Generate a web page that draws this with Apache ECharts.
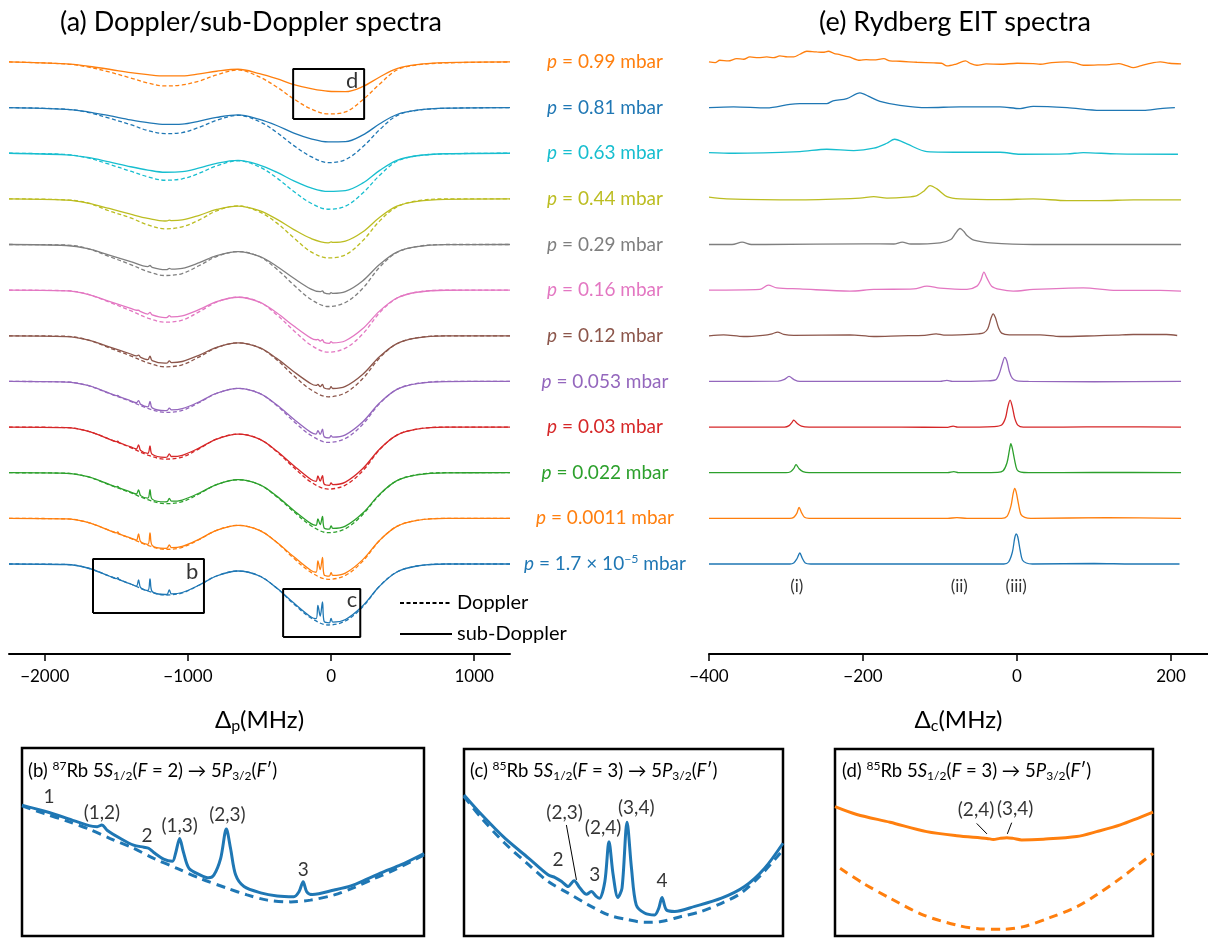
<!DOCTYPE html>
<html>
<head>
<meta charset="utf-8">
<title>Doppler / sub-Doppler and Rydberg EIT spectra</title>
<script src="https://cdn.jsdelivr.net/npm/echarts@6.0.0/dist/echarts.min.js"></script>
<style>
  html, body { margin: 0; padding: 0; background: #fff; }
  #main { width: 1208px; height: 939px; }
</style>
</head>
<body>
<div id="main"></div>
<script>
(function () {
  var chart = echarts.init(document.getElementById('main'));
  var FONT = 'Lato, "Noto Sans", sans-serif';

  // traces are stacked bottom (index 0) to top (index 11)
  var pressureLabels = ['1.7 × 10^−5', '0.0011', '0.022', '0.03', '0.053', '0.12', '0.16', '0.29', '0.44', '0.63', '0.81', '0.99'];
  var colors = ['#1f77b4', '#ff7f0e', '#2ca02c', '#d62728', '#9467bd', '#8c564b', '#e377c2', '#7f7f7f', '#bcbd22', '#17becf', '#1f77b4', '#ff7f0e'];
  var SPACING = 45.64; // vertical offset between traces (a.u.)

  // probe detuning grid (MHz) of the Doppler traces
  var dopX = [-2250, -1850, -1700, -1550, -1400, -1280, -1160, -1040, -920, -800, -650, -500, -380, -260, -140, -20, 100, 220, 340, 460, 600, 800, 1250];

  // Doppler (dashed) traces, transmission relative to baseline
  var doppler = [
    [0, -0.5, -4, -12, -20, -27, -31, -29, -21, -12, -7, -12, -24, -40, -54, -61, -57, -43, -22, -8, -2, 0, 0],
    [0, -0.5, -4, -12, -20, -27, -31, -29, -21, -12, -7, -12, -24, -40, -54, -61, -57, -43, -22, -8, -2, 0, 0],
    [0, -0.5, -4, -12, -20, -27, -31, -29, -21, -12, -7, -12, -24, -39, -53, -60, -56, -42, -22, -8, -2, 0, 0],
    [0, -0.5, -4, -12, -20.5, -28, -32, -30, -21.5, -12, -7, -12, -24.5, -40.5, -55, -62, -58, -44, -22.5, -8, -2, 0, 0],
    [0, -0.5, -4, -12, -20, -27, -31, -29, -21, -12, -7, -12, -24, -40, -54, -61, -57, -43, -22, -8, -2, 0, 0],
    [0, -0.5, -4, -12, -20, -27, -31, -29, -21, -12, -7, -12, -24, -40, -54, -61, -57, -43, -22, -8, -2, 0, 0],
    [0, -0.5, -4, -12, -20.5, -28, -32, -30, -21.5, -12, -7, -12, -24.5, -40.5, -55, -62, -58, -44, -22.5, -8, -2, 0, 0],
    [0, -0.5, -4, -12, -20, -27, -31, -29, -21, -12, -7, -12, -24.5, -40.5, -55, -62, -58, -44, -22.5, -8, -2, 0, 0],
    [0, -1, -4, -12, -19, -26, -30, -28, -21, -12, -7, -13, -24, -39, -53, -59, -56, -42, -22, -8, -2, 0, 0],
    [0, -1.3, -4.6, -11, -18, -23.6, -27, -25.6, -20, -12.6, -7.6, -13.7, -24.6, -38.3, -50, -56, -53, -40, -22, -8, -2.6, -0.6, 0],
    [0, -1.6, -4.7, -10.6, -17, -23, -26, -25, -19.6, -12.7, -7.7, -14, -24.7, -38, -49, -55, -52, -39.5, -22, -8, -2.7, -0.7, 0],
    [0, -2, -5, -10, -16, -21, -24, -23, -19, -13, -8, -15, -25, -37, -47, -52, -50, -38, -22, -8, -3, -1, 0]
  ];

  // sub-Doppler (solid) traces: [MHz, value] pairs, or values on dopX
  var subDoppler = [
    [[-2250,0],[-1850,-0.5],[-1700,-4],[-1550,-12],[-1500,-14.7],[-1490,-13.7],[-1480,-15.7],[-1400,-20],[-1360,-22.2],[-1345,-16],[-1330,-23.8],[-1280,-26.5],[-1265,-15],[-1250,-27.5],[-1160,-30.5],[-1145,-30.3],[-1130,-26],[-1115,-29.8],[-1040,-28.5],[-920,-21],[-800,-12],[-650,-7],[-500,-12],[-380,-24],[-260,-39],[-140,-53],[-105,-54.7],[-92,-41.4],[-76,-52],[-60,-38],[-48,-57.6],[-12,-58.8],[0,-54.4],[12,-58.1],[100,-55.5],[220,-42],[340,-22],[460,-8],[600,-2],[800,0],[1250,0]],
    [[-2250,0],[-1850,-0.5],[-1700,-4],[-1550,-12],[-1500,-14.6],[-1490,-13.6],[-1480,-15.6],[-1400,-19.7],[-1360,-21.8],[-1345,-15.6],[-1330,-23.4],[-1280,-26],[-1265,-14.5],[-1250,-27],[-1160,-30],[-1145,-29.8],[-1130,-26.5],[-1115,-29.3],[-1040,-28],[-920,-20.7],[-800,-12],[-650,-7],[-500,-12],[-380,-23.8],[-260,-38.5],[-140,-52.2],[-105,-53.9],[-92,-42.5],[-76,-51.3],[-60,-39.1],[-48,-56.7],[-12,-57.8],[0,-54.4],[12,-57.1],[100,-54.7],[220,-41.5],[340,-21.8],[460,-8],[600,-2],[800,0],[1250,0]],
    [[-2250,0],[-1850,-0.6],[-1700,-4],[-1550,-11.6],[-1500,-14.2],[-1490,-13.7],[-1480,-15.2],[-1400,-19.3],[-1360,-21.3],[-1345,-17.1],[-1330,-22.9],[-1280,-25.4],[-1265,-16.9],[-1250,-26.4],[-1160,-29.2],[-1145,-29],[-1130,-25.7],[-1115,-28.5],[-1040,-27.3],[-920,-20.3],[-800,-11.8],[-650,-7],[-500,-12],[-380,-23.4],[-260,-37.7],[-140,-50.9],[-105,-52.6],[-92,-46.2],[-76,-51.9],[-60,-43.7],[-48,-55.3],[-12,-56.4],[0,-53.1],[12,-55.7],[100,-53.4],[220,-40.6],[340,-21.4],[460,-7.9],[600,-2.1],[800,-0.1],[1250,0]],
    [[-2250,0],[-1850,-0.5],[-1700,-4],[-1550,-12],[-1500,-14.6],[-1490,-14.1],[-1480,-15.6],[-1400,-19.8],[-1360,-21.9],[-1345,-17.7],[-1330,-23.5],[-1280,-26.2],[-1265,-18.7],[-1250,-27.2],[-1160,-30.2],[-1145,-29.9],[-1130,-26.7],[-1115,-29.4],[-1040,-28.2],[-920,-20.8],[-800,-12],[-650,-7],[-500,-12],[-380,-23.9],[-260,-38.7],[-140,-52.5],[-105,-54.2],[-92,-48.9],[-76,-54.1],[-60,-48.5],[-48,-57],[-12,-58.2],[0,-55.8],[12,-57.5],[100,-55],[220,-41.7],[340,-21.9],[460,-8],[600,-2],[800,0],[1250,0]],
    [[-2250,0],[-1850,-0.6],[-1700,-4],[-1550,-11.6],[-1500,-14.2],[-1490,-14],[-1480,-15.2],[-1400,-19.3],[-1360,-21.3],[-1345,-19.1],[-1330,-22.9],[-1280,-25.4],[-1265,-19.9],[-1250,-26.4],[-1160,-29.2],[-1145,-29],[-1130,-26.7],[-1115,-28.5],[-1040,-27.3],[-920,-20.3],[-800,-11.8],[-650,-7],[-500,-12],[-380,-23.4],[-260,-37.7],[-140,-50.9],[-105,-52.6],[-92,-49.2],[-76,-52.9],[-60,-47.7],[-48,-55.3],[-12,-56.4],[0,-54.1],[12,-55.7],[100,-53.4],[220,-40.6],[340,-21.4],[460,-7.9],[600,-2.1],[800,-0.1],[1250,0]],
    [[-2250,0],[-1850,-0.8],[-1700,-4.1],[-1550,-11.1],[-1400,-18.2],[-1360,-20.1],[-1345,-19.3],[-1330,-21.5],[-1280,-23.9],[-1265,-20.3],[-1250,-24.8],[-1160,-27.4],[-1145,-27.2],[-1130,-25],[-1115,-26.8],[-1040,-25.7],[-920,-19.3],[-800,-11.5],[-650,-7.1],[-500,-11.9],[-380,-22.6],[-260,-35.9],[-140,-48],[-105,-49.6],[-92,-48.7],[-76,-50.9],[-60,-48.6],[-48,-52.2],[-12,-53.2],[0,-50.9],[12,-52.7],[100,-50.6],[220,-38.7],[340,-20.7],[460,-7.8],[600,-2.1],[800,-0.1],[1250,0]],
    [[-2250,0],[-1850,-0.8],[-1700,-4.1],[-1550,-11.1],[-1400,-18.2],[-1360,-20.1],[-1345,-20.1],[-1330,-21.5],[-1280,-23.9],[-1265,-22.3],[-1250,-24.8],[-1160,-27.4],[-1145,-27.2],[-1130,-25.5],[-1115,-26.8],[-1040,-25.7],[-920,-19.3],[-800,-11.5],[-650,-7.1],[-500,-11.9],[-380,-22.6],[-260,-35.9],[-140,-48],[-105,-49.6],[-92,-49.2],[-76,-50.9],[-60,-49.6],[-48,-52.2],[-12,-53.2],[0,-51.4],[12,-52.7],[100,-50.6],[220,-38.7],[340,-20.7],[460,-7.8],[600,-2.1],[800,-0.1],[1250,0]],
    [[-2250,0],[-1850,-1],[-1700,-4.1],[-1550,-10.5],[-1400,-17],[-1280,-22.1],[-1265,-21],[-1250,-22.9],[-1160,-25.2],[-1145,-25],[-1130,-23.9],[-1115,-24.7],[-1040,-23.9],[-920,-18.1],[-800,-11.1],[-650,-7.1],[-500,-11.9],[-380,-21.7],[-260,-33.8],[-140,-44.6],[-76,-47.2],[-60,-46.4],[-48,-48.4],[-12,-49.3],[0,-48.1],[12,-48.9],[100,-47.2],[220,-36.5],[340,-19.8],[460,-7.6],[600,-2.2],[800,-0.2],[1250,0]],
    [[-2250,0],[-1850,-1.3],[-1700,-4.2],[-1550,-9.6],[-1400,-15.3],[-1280,-19.5],[-1160,-22.1],[-1145,-22],[-1130,-21.2],[-1115,-21.7],[-1040,-21.1],[-920,-16.4],[-800,-10.6],[-650,-7.2],[-500,-11.8],[-380,-20.3],[-260,-30.7],[-140,-39.6],[-20,-43.9],[-12,-43.8],[0,-42.9],[12,-43.5],[100,-42.3],[220,-33.2],[340,-18.4],[460,-7.3],[600,-2.4],[800,-0.4],[1250,0]],
    [0, -1.6, -4.2, -8.7, -13.5, -16.8, -19, -18.4, -14.7, -10.1, -7.2, -11.8, -18.9, -27.6, -34.6, -38.2, -37.4, -29.9, -17.1, -7.1, -2.5, -0.5, 0],
    [0, -1.7, -4.2, -8.1, -12.3, -15.1, -16.8, -16.5, -13.5, -9.8, -7.2, -11.8, -17.9, -25.5, -31.2, -34.3, -34.1, -27.6, -16.2, -6.9, -2.6, -0.6, 0],
    [0, -2, -4.3, -7.3, -10.7, -12.7, -14, -14, -12, -9.3, -7.3, -11.7, -16.7, -22.7, -26.7, -29.3, -29.7, -24.7, -15, -6.7, -2.7, -0.7, 0]
  ];

  // Rydberg EIT traces: [coupling detuning MHz, signal]
  var eit = [
    [[-400,0],[-295,0],[-290,1],[-286,5],[-282,11],[-279,6],[-275,1],[-268,0],[-100,0],[-17,0],[-11,2],[-6,12],[-3,26],[-1,30],[1,27],[4,14],[7,4],[12,1],[20,0],[100,0.5],[150,0],[211,0]],
    [[-400,0],[-295,0],[-290,1],[-286,5],[-283,11],[-280,6],[-276,1],[-270,0],[-90,0],[-78,0.7],[-65,0],[-20,0],[-13,2],[-8,12],[-5,25],[-3,30],[-1,26],[2,14],[5,4],[10,1],[18,0],[117,0.7],[213,0]],
    [[-400,0],[-300,0],[-294,1],[-290,4],[-287,8],[-283,4],[-278,1],[-270,0],[-90,0],[-82,1],[-76,0],[-25,0.3],[-18,2],[-13,10],[-10,22],[-8,29],[-6,24],[-3,12],[0,3],[5,0.5],[15,0],[100,0.3],[213,0]],
    [[-400,0],[-302,0],[-296,1.5],[-292,5],[-290,7],[-286,4],[-280,1],[-270,0],[-150,0],[-90,-0.3],[-83,1],[-77,0],[-30,0.5],[-20,2],[-15,9],[-12,20],[-9,27],[-6,20],[-3,9],[1,2],[8,0],[60,0],[120,0.3],[213,0]],
    [[-400,0],[-310,0.3],[-302,2],[-296,5],[-290,2],[-282,0],[-150,0],[-100,0],[-91,1],[-84,0],[-40,0.5],[-28,1.5],[-23,8],[-19,18],[-16,24],[-13,20],[-10,10],[-6,3],[0,0.5],[15,0],[100,-0.3],[213,0]],
    [[-400,0],[-381,1],[-355,-0.7],[-330,0.5],[-318,2],[-311,3.7],[-303,1.5],[-290,0.5],[-217,1],[-186,-0.7],[-152,0],[-120,0.5],[-105,2],[-95,0.7],[-74,1],[-50,2],[-43,3],[-38,7],[-34,17],[-31,22],[-28,18],[-24,8],[-20,2.7],[-10,1],[0,1],[30,1],[56,-0.7],[100,0],[129,0.7],[151,1.3],[194,1.3],[208,0.3]],
    [[-400,0],[-334,0.7],[-323,5],[-312,2.3],[-282,1.3],[-217,-1],[-186,0.7],[-134,1.3],[-117,4],[-100,2],[-65,0.7],[-52,4],[-47,10],[-43,18],[-39,12],[-33,4],[-22,0.7],[-5,-1],[21,0.7],[86,2.3],[129,-0.3],[186,-0.3],[213,-1]],
    [[-400,0],[-370,0],[-357,2.3],[-345,0],[-327,0],[-197,0.7],[-160,0.5],[-149,2.3],[-138,0.5],[-100,1.7],[-86,5],[-80,11],[-74,16],[-69,13],[-65,9],[-56,4.3],[-35,1.7],[21,0],[108,0],[213,0]],
    [[-400,1.7],[-377,0],[-282,-1],[-204,0.7],[-186,2.3],[-169,0.7],[-143,1.7],[-130,3.3],[-121,7.7],[-113,13.3],[-104,10],[-91,2.3],[-74,0],[-22,-0.7],[21,0],[65,-1.7],[108,-1.7],[151,-1],[213,-1]],
    [[-400,0.7],[-368,0],[-282,1.7],[-247,4],[-212,2.7],[-186,5],[-169,10],[-159,14],[-143,9.3],[-117,1.7],[-65,1],[-22,1],[4,-1],[65,-0.7],[86,0.7],[129,-0.7],[209,-1]],
    [[-400,0],[-368,0.7],[-325,-0.3],[-295,3.3],[-282,4],[-247,4],[-239,6.7],[-221,9],[-204,14.7],[-191,10.7],[-178,6.3],[-152,2.3],[-117,0],[-74,0.7],[-22,0.7],[4,-1],[21,1.3],[65,0],[108,-2.7],[164,-2.7],[186,-1],[205,0]],
    [[-400,0],[-392,-0.7],[-386,1.7],[-375,1],[-364,3.3],[-355,2.7],[-347,5],[-336,4.3],[-325,5],[-316,4.3],[-308,6],[-298,5],[-290,5],[-282,7.7],[-273,10.7],[-266,10.3],[-260,10],[-252,9.7],[-245,10.7],[-238,8.7],[-230,7.3],[-218,5],[-204,1.7],[-196,2.3],[-186,2],[-173,3.3],[-165,1],[-152,0.7],[-130,-0.3],[-108,-1],[-98,-1.3],[-91,-4],[-80,-2.3],[-67,1],[-60,-1.7],[-52,-3.3],[-40,-2],[-22,-2.3],[0,-1.3],[21,-1.7],[30,-2.3],[45,-0.7],[65,0],[75,-1],[86,-3.3],[105,-3],[120,-2.7],[132,-1.7],[142,-3.7],[151,-5.7],[160,-4],[170,-2],[186,0],[198,-1.3],[213,-2]]
  ];
  var eitMarks = [[-286, '(i)'], [-75, '(ii)'], [-1, '(iii)']];

  // insets: zoomed views (x in MHz, y in a.u.)
  var bRange = { x: [-1663, -888], y: [-49, 5], trace: 0 };
  var bSub = [[-1663,-11.4],[-1621,-13.1],[-1576,-15.2],[-1534,-17.3],[-1518,-17.6],[-1509,-17.1],[-1499,-18.6],[-1473,-21.0],[-1448,-22.9],[-1428,-23.5],[-1419,-23.8],[-1409,-25.0],[-1390,-26.9],[-1373,-27.5],[-1367,-25.3],[-1359,-21.0],[-1352,-24.8],[-1341,-29.6],[-1319,-31.5],[-1303,-32.3],[-1293,-31.5],[-1280,-26.7],[-1269,-18.3],[-1261,-23.8],[-1251,-31.5],[-1235,-34.8],[-1203,-36.6],[-1171,-37.5],[-1139,-37.7],[-1129,-36.3],[-1121,-33.4],[-1114,-36.3],[-1103,-37.1],[-1061,-35.8],[-1029,-34.6],[-997,-32.6],[-965,-30.5],[-933,-28.6],[-888,-25.3]];
  var bDop = [[-1663,-11.6],[-1621,-13.8],[-1576,-16.0],[-1534,-18.3],[-1493,-21.0],[-1448,-23.8],[-1409,-26.7],[-1364,-29.6],[-1319,-32.5],[-1267,-35.3],[-1229,-37.2],[-1190,-38.7],[-1145,-39.2],[-1107,-38.7],[-1061,-37.2],[-1023,-35.1],[-984,-32.5],[-946,-30.1],[-888,-25.7]];
  var bLabels = [[-1611, -9, '1'], [-1509, -13.5, '(1,2)'], [-1422, -20.2, '2'], [-1359, -17.3, '(1,3)'], [-1267, -14.3, '(2,3)'], [-1121, -30.1, '3']];

  var cRange = { x: [-335, 204], y: [-73, -25], trace: 0 };
  var cSub = [[-335,-36.8],[-305,-41.9],[-266,-47.9],[-226,-53.0],[-193,-57.3],[-181,-58.0],[-170,-59.0],[-159,-60.3],[-149,-58.8],[-139,-60.7],[-128,-62.3],[-120,-61.6],[-111,-62.9],[-106,-63.3],[-97,-59.0],[-90,-48.8],[-83,-57.3],[-75,-63.1],[-68,-60.7],[-59.5,-43.8],[-52,-55.6],[-44,-65.0],[-30,-67.1],[-13,-67.6],[-6,-65.9],[-0.4,-63.1],[7,-66.3],[21,-66.7],[55,-65.4],[100,-63.3],[139,-60.3],[173,-55.6],[204,-49.2]];
  var cDop = [[-335,-37.2],[-305,-42.8],[-266,-49.2],[-226,-54.7],[-193,-59.0],[-159,-62.0],[-125,-65.0],[-91,-67.6],[-58,-68.8],[-30,-69.5],[-2,-69.3],[32,-68.0],[66,-66.7],[100,-64.6],[133,-62.0],[167,-57.3],[204,-50.9]];
  var cLabels = [[-176, -53.5, '2'], [-165, -41.5, '(2,3)'], [-114, -57.3, '3'], [-100, -45.3, '(2,4)'], [-44, -40.2, '(3,4)'], [-0.4, -58.8, '4']];
  var cLeaders = [[[-145, -58.6], [-162, -44.5]]];

  var dRange = { x: [-265, 231], y: [-57, -7], trace: 11 };
  var dSub = [[-265,-22.4],[-231,-24.5],[-179,-26.6],[-122,-29.1],[-75,-30.2],[-28,-30.9],[-18,-31.2],[-8,-30.9],[3,-30.7],[13,-30.9],[26,-31.3],[60,-31.1],[112,-30.4],[143,-29.1],[180,-27.3],[231,-23.9]];
  var dDop = [[-257,-38.9],[-221,-42.9],[-179,-46.9],[-127,-51.4],[-75,-54.1],[-39,-55.1],[-2,-55.2],[29,-54.5],[70,-52.1],[112,-49.2],[143,-46.0],[180,-41.6],[231,-34.9]];
  var dLabels = [[-45, -23.3, '(2,4)'], [16, -23.0, '(3,4)']];
  var dLeaders = [[[-44, -26.9], [-28, -29.7]], [[10.6, -26.7], [3.8, -29.7]]];

  // box labels in panel (a), relative to the zoomed trace
  var boxLabels = [[-971, -8, 'b', 0], [147, -36, 'c', 0], [147, -19, 'd', 11]];

  function pairs(arr) {
    if (typeof arr[0] === 'number') {
      return arr.map(function (v, i) { return [dopX[i], v]; });
    }
    return arr;
  }
  function shift(arr, off) {
    return arr.map(function (p) { return [p[0], p[1] + off]; });
  }
  function boxPath(r) {
    var off = r.trace * SPACING;
    return [[r.x[0], r.y[0] + off], [r.x[1], r.y[0] + off], [r.x[1], r.y[1] + off], [r.x[0], r.y[1] + off], [r.x[0], r.y[0] + off]];
  }
  function labelSeries(axis, list, size) {
    return {
      type: 'scatter', xAxisIndex: axis, yAxisIndex: axis, symbolSize: 0, silent: true, z: 5,
      data: list.map(function (l) { return { value: [l[0], l[1]], label: { formatter: l[2] } }; }),
      label: { show: true, position: 'inside', fontSize: size, fontFamily: FONT, color: '#000' }
    };
  }
  function leaderSeries(axis, segs) {
    return segs.map(function (s) {
      return { type: 'line', xAxisIndex: axis, yAxisIndex: axis, symbol: 'none', silent: true, data: s,
        lineStyle: { color: '#000', width: 1 } };
    });
  }

  var DASH = [4, 2.5];
  var series = [
    { name: 'Doppler', type: 'line', data: [], symbol: 'none', color: '#000', lineStyle: { color: '#000', width: 1.3, type: DASH } },
    { name: 'sub-Doppler', type: 'line', data: [], symbol: 'none', color: '#000', lineStyle: { color: '#000', width: 1.3 } }
  ];

  for (var k = 0; k < doppler.length; k++) {
    var off = k * SPACING;
    series.push({
      type: 'line', xAxisIndex: 0, yAxisIndex: 0, symbol: 'none', smooth: 0.35, silent: true,
      lineStyle: { color: colors[k], width: 1.3, type: DASH },
      data: shift(pairs(doppler[k]), off)
    });
    series.push({
      type: 'line', xAxisIndex: 0, yAxisIndex: 0, symbol: 'none', smooth: 0.35, silent: true,
      lineStyle: { color: colors[k], width: 1.3 },
      data: shift(pairs(subDoppler[k]), off)
    });
    series.push({
      type: 'line', xAxisIndex: 1, yAxisIndex: 1, symbol: 'none', smooth: 0.3, silent: true,
      lineStyle: { color: colors[k], width: 1.3 },
      data: shift(eit[k], off)
    });
  }

  // boxes marking the insets
  [bRange, cRange, dRange].forEach(function (r) {
    series.push({ type: 'line', xAxisIndex: 0, yAxisIndex: 0, symbol: 'none', silent: true, z: 4,
      data: boxPath(r), lineStyle: { color: '#000', width: 2 } });
  });
  series.push(labelSeries(0, boxLabels.map(function (b) { return [b[0], b[1] + b[3] * SPACING, b[2]]; }), 22));
  series.push(labelSeries(1, eitMarks.map(function (m) { return [m[0], -23, m[1]]; }), 17));

  // inset curves
  var insets = [[bSub, bDop, '#1f77b4'], [cSub, cDop, '#1f77b4'], [dSub, dDop, '#ff7f0e']];
  insets.forEach(function (ins, i) {
    series.push({ type: 'line', xAxisIndex: 2 + i, yAxisIndex: 2 + i, symbol: 'none', smooth: 0.3, silent: true,
      data: ins[1], lineStyle: { color: ins[2], width: 3, type: [9, 6] } });
    series.push({ type: 'line', xAxisIndex: 2 + i, yAxisIndex: 2 + i, symbol: 'none', smooth: 0.3, silent: true,
      data: ins[0], lineStyle: { color: ins[2], width: 3 } });
  });
  series.push(labelSeries(2, bLabels, 19));
  series.push(labelSeries(3, cLabels, 19));
  series.push(labelSeries(4, dLabels, 19));
  series = series.concat(leaderSeries(3, cLeaders), leaderSeries(4, dLeaders));

  function minus(v) { return String(v).replace('-', '−'); }
  function mainX(idx, min, max, ticks, sub) {
    return {
      type: 'value', gridIndex: idx, min: min, max: max,
      name: '{d|Δ}{s|' + sub + '}{d|(MHz)}', nameLocation: 'middle', nameGap: 52,
      nameTextStyle: { rich: {
        d: { fontSize: 24, fontFamily: FONT, color: '#000', lineHeight: 28 },
        s: { fontSize: 16, fontFamily: FONT, color: '#000', lineHeight: 14, verticalAlign: 'bottom' }
      } },
      axisLine: { show: true, onZero: false, lineStyle: { color: '#000', width: 2 } },
      axisTick: { show: true, inside: false, length: 7, lineStyle: { color: '#000', width: 1.5 }, customValues: ticks },
      axisLabel: { show: true, fontSize: 17, fontFamily: FONT, color: '#000', margin: 14, formatter: minus, customValues: ticks },
      splitLine: { show: false }
    };
  }
  function hiddenAxis(idx, min, max) {
    return { type: 'value', gridIndex: idx, min: min, max: max, show: false, splitLine: { show: false } };
  }

  var option = {
    animation: false,
    backgroundColor: '#fff',
    textStyle: { fontFamily: FONT },
    legend: {
      data: ['Doppler', 'sub-Doppler'], orient: 'vertical', left: 394, top: 588,
      itemWidth: 52, itemHeight: 14, itemGap: 11, selectedMode: false,
      itemStyle: { opacity: 0 },
      textStyle: { fontSize: 20, fontFamily: FONT, color: '#000' }
    },
    grid: [
      { left: 9, top: 38.5, width: 501, height: 615.5 },
      { left: 709, top: 38.5, width: 499, height: 615.5 },
      { left: 22, top: 748, width: 402, height: 188, show: true, borderColor: '#000', borderWidth: 2.5, backgroundColor: 'transparent' },
      { left: 464, top: 749, width: 319, height: 187, show: true, borderColor: '#000', borderWidth: 2.5, backgroundColor: 'transparent' },
      { left: 835, top: 749, width: 318, height: 187, show: true, borderColor: '#000', borderWidth: 2.5, backgroundColor: 'transparent' }
    ],
    xAxis: [
      mainX(0, -2250, 1250, [-2000, -1000, 0, 1000], 'p'),
      mainX(1, -400, 248, [-400, -200, 0, 200], 'c'),
      hiddenAxis(2, bRange.x[0], bRange.x[1]),
      hiddenAxis(3, cRange.x[0], cRange.x[1]),
      hiddenAxis(4, dRange.x[0], dRange.x[1])
    ],
    yAxis: [
      hiddenAxis(0, -90, 525.5),
      hiddenAxis(1, -90, 525.5),
      hiddenAxis(2, bRange.y[0], bRange.y[1]),
      hiddenAxis(3, cRange.y[0], cRange.y[1]),
      hiddenAxis(4, dRange.y[0], dRange.y[1])
    ],
    series: series
  };
  chart.setOption(option);

  // free text: panel titles, pressure labels, inset titles
  var richBase = function (color, size) {
    return {
      it: { fontStyle: 'italic', fontSize: size, fontFamily: FONT, fill: color, color: color, lineHeight: 22 },
      sup: { fontSize: size * 0.65, fontFamily: FONT, fill: color, color: color, lineHeight: 12, verticalAlign: 'top' },
      sub: { fontSize: size * 0.65, fontFamily: FONT, fill: color, color: color, lineHeight: 12, verticalAlign: 'bottom' },
      n: { fontSize: size, fontFamily: FONT, fill: color, color: color, lineHeight: 22 }
    };
  };
  var graphics = [
    { type: 'text', x: 251, y: 22, style: { text: '(a) Doppler/sub-Doppler spectra', fontSize: 27, fontFamily: FONT, fill: '#000', align: 'center', verticalAlign: 'middle' } },
    { type: 'text', x: 955, y: 22, style: { text: '(e) Rydberg EIT spectra', fontSize: 27, fontFamily: FONT, fill: '#000', align: 'center', verticalAlign: 'middle' } }
  ];
  pressureLabels.forEach(function (lbl, k) {
    var y = chart.convertToPixel({ gridIndex: 0 }, [0, k * SPACING])[1];
    var parts = lbl.split('^');
    var txt = '{it|p}{n| = ' + parts[0] + '}' + (parts[1] ? '{sup|' + parts[1] + '}' : '') + '{n| mbar}';
    graphics.push({ type: 'text', x: 605, y: y, style: { text: txt, rich: richBase(colors[k], 19), fill: colors[k], fontSize: 19, fontFamily: FONT, align: 'center', verticalAlign: 'middle' } });
  });
  var insetTitles = [
    [28, '{n|(b) }{sup|87}{n|Rb 5}{it|S}{sub|1/2}{n|(}{it|F}{n| = 2) → 5}{it|P}{sub|3/2}{n|(}{it|F}{n|′)}'],
    [470, '{n|(c) }{sup|85}{n|Rb 5}{it|S}{sub|1/2}{n|(}{it|F}{n| = 3) → 5}{it|P}{sub|3/2}{n|(}{it|F}{n|′)}'],
    [842, '{n|(d) }{sup|85}{n|Rb 5}{it|S}{sub|1/2}{n|(}{it|F}{n| = 3) → 5}{it|P}{sub|3/2}{n|(}{it|F}{n|′)}']
  ];
  insetTitles.forEach(function (t) {
    graphics.push({ type: 'text', x: t[0], y: 771, style: { text: t[1], rich: richBase('#000', 18.5), fill: '#000', fontSize: 18.5, fontFamily: FONT, align: 'left', verticalAlign: 'middle' } });
  });
  chart.setOption({ graphic: graphics });

  window.addEventListener('resize', function () { chart.resize(); });
})();
</script>
</body>
</html>
